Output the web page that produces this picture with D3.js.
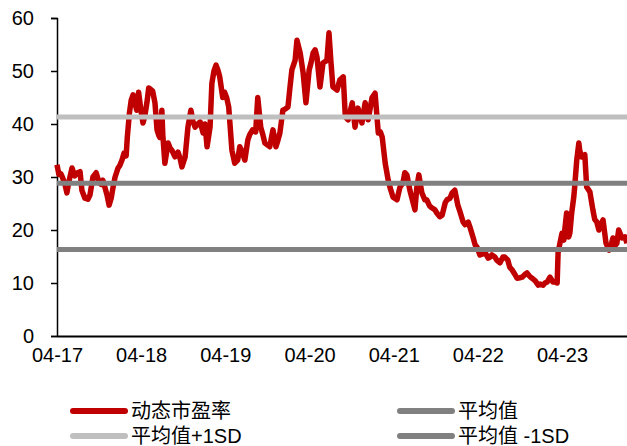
<!DOCTYPE html>
<html>
<head>
  <meta charset="utf-8">
  <title>动态市盈率</title>
  <style>
    body { margin: 0; background: #fff; }
    svg text { font-family: "Liberation Sans", Arial, sans-serif; fill: #000; }
    .legend text { font-family: "Liberation Sans", "Noto Sans CJK SC", sans-serif; }
  </style>
</head>
<body>
  <div id="chart"></div>

  <script src="https://d3js.org/d3.v7.min.js"></script>
  <script>
    // weekly-ish readings of the PE line
    const dates = [
      "2017-04-01","2017-04-09","2017-04-18","2017-04-26","2017-05-06","2017-05-14","2017-05-22","2017-06-05",
      "2017-06-17","2017-06-30","2017-07-10","2017-07-18","2017-07-31","2017-08-13","2017-08-22","2017-09-04",
      "2017-09-18","2017-09-30","2017-10-09","2017-10-17","2017-10-26","2017-11-04","2017-11-13","2017-11-22",
      "2017-11-30","2017-12-09","2017-12-22","2017-12-30","2018-01-08","2018-01-17","2018-01-26","2018-01-31",
      "2018-02-09","2018-02-17","2018-02-25","2018-03-05","2018-03-13","2018-03-21","2018-03-31","2018-04-09",
      "2018-04-17","2018-04-26","2018-05-04","2018-05-13","2018-05-21","2018-05-31","2018-06-09","2018-06-17",
      "2018-06-21","2018-06-30","2018-07-04","2018-07-13","2018-07-27","2018-08-04","2018-08-13","2018-08-26",
      "2018-09-08","2018-09-17","2018-09-25","2018-10-09","2018-10-21","2018-11-03","2018-11-12","2018-11-21",
      "2018-12-03","2018-12-13","2018-12-26","2019-01-03","2019-01-12","2019-01-25","2019-02-02","2019-02-11",
      "2019-02-20","2019-02-28","2019-03-08","2019-03-21","2019-03-29","2019-04-07","2019-04-16","2019-04-30",
      "2019-05-12","2019-05-25","2019-06-03","2019-06-11","2019-06-25","2019-07-08","2019-07-16","2019-07-29",
      "2019-08-11","2019-08-20","2019-09-02","2019-09-11","2019-09-20","2019-10-03","2019-10-11","2019-10-25",
      "2019-11-07","2019-11-16","2019-11-24","2019-12-07","2019-12-16","2019-12-29","2020-01-07","2020-01-15",
      "2020-01-29","2020-02-06","2020-02-20","2020-03-04","2020-03-16","2020-03-30","2020-04-07","2020-04-16",
      "2020-04-25","2020-05-03","2020-05-16","2020-05-29","2020-06-15","2020-06-24","2020-07-02","2020-07-11",
      "2020-07-29","2020-08-10","2020-08-25","2020-09-03","2020-09-15","2020-10-03","2020-10-15","2020-10-28",
      "2020-11-14","2020-11-28","2020-12-11","2020-12-28","2021-01-10","2021-01-24","2021-02-02","2021-02-10",
      "2021-02-23","2021-03-08","2021-03-16","2021-03-29","2021-04-15","2021-04-28","2021-05-11","2021-05-19",
      "2021-05-28","2021-06-10","2021-06-23","2021-07-02","2021-07-10","2021-07-19","2021-08-01","2021-08-14",
      "2021-08-22","2021-09-04","2021-09-13","2021-09-27","2021-10-05","2021-10-18","2021-10-28","2021-11-10",
      "2021-11-18","2021-12-01","2021-12-10","2021-12-22","2022-01-04","2022-01-13","2022-01-27","2022-02-05",
      "2022-02-18","2022-02-26","2022-03-12","2022-03-20","2022-03-28","2022-04-10","2022-04-23","2022-05-03",
      "2022-05-16","2022-05-24","2022-06-01","2022-06-14","2022-06-22","2022-07-06","2022-07-19","2022-07-27",
      "2022-08-09","2022-08-17","2022-08-27","2022-09-09","2022-09-18","2022-09-30","2022-10-10","2022-10-22",
      "2022-10-31","2022-11-13","2022-11-22","2022-12-06","2022-12-19","2022-12-27","2023-01-09","2023-01-17",
      "2023-01-27","2023-02-08","2023-02-21","2023-03-02","2023-03-11","2023-03-15","2023-03-23","2023-04-01",
      "2023-04-09","2023-04-13","2023-04-21","2023-04-30","2023-05-05","2023-05-13","2023-05-22","2023-05-26",
      "2023-06-04","2023-06-13","2023-06-17","2023-06-25","2023-07-09","2023-07-17","2023-07-31","2023-08-13",
      "2023-08-21","2023-08-30","2023-09-08","2023-09-16","2023-09-26","2023-10-09","2023-10-22","2023-10-30",
      "2023-11-08","2023-11-16","2023-11-25","2023-12-03","2023-12-17","2023-12-30","2024-01-08"
    ];
    const peValues = [
      32.3, 30.5, 30.6, 29.8, 28.5, 27.0, 29.0, 31.7,
      30.2, 30.8, 31.0, 27.5, 26.0, 25.8, 26.6, 30.0,
      30.8, 29.0, 28.6, 29.4, 28.0, 26.6, 24.7, 26.0,
      28.0, 30.0, 31.7, 32.2, 33.2, 34.5, 34.0, 37.5,
      42.0, 44.5, 45.5, 44.0, 42.6, 46.0, 42.6, 40.2,
      41.5, 44.0, 46.8, 46.5, 46.2, 44.0, 38.9, 37.8,
      37.5, 42.6, 38.0, 32.6, 36.4, 35.5, 35.0, 33.8,
      34.7, 33.5, 31.9, 33.8, 39.4, 42.6, 40.5, 39.4,
      40.0, 40.4, 38.3, 40.0, 35.7, 39.4, 47.7, 50.0,
      51.1, 50.2, 48.9, 45.0, 46.0, 45.0, 43.2, 35.0,
      32.6, 33.2, 35.7, 35.0, 33.2, 37.0, 38.0, 38.9,
      38.5, 45.0, 39.4, 38.0, 36.4, 36.0, 35.7, 38.9,
      35.7, 37.0, 38.3, 42.6, 42.8, 43.2, 47.0, 50.2,
      52.0, 55.8, 53.4, 49.6, 44.0, 50.2, 51.5, 53.4,
      54.0, 52.6, 47.0, 51.5, 52.0, 57.2, 52.0, 47.0,
      46.4, 48.3, 48.9, 41.3, 40.8, 44.0, 39.4, 43.0,
      40.2, 44.0, 40.8, 45.0, 45.8, 38.3, 38.5, 37.5,
      32.6, 29.4, 28.0, 26.2, 25.7, 28.1, 28.9, 30.8,
      30.4, 27.5, 25.3, 23.8, 28.0, 30.4, 27.0, 25.7,
      25.7, 24.5, 24.2, 23.8, 23.2, 22.5, 22.8, 25.1,
      25.7, 26.0, 27.0, 27.5, 24.7, 23.5, 21.5, 21.0,
      21.5, 20.5, 18.5, 17.2, 16.8, 15.3, 15.5, 15.7,
      14.7, 14.9, 15.3, 14.9, 14.3, 13.8, 14.9, 14.9,
      14.3, 13.0, 12.5, 11.6, 10.9, 11.0, 11.1, 11.6,
      11.9, 11.2, 10.9, 10.4, 9.6, 9.8, 9.6, 10.0,
      10.2, 11.1, 10.2, 10.2, 10.0, 15.7, 17.5, 19.4,
      18.1, 20.0, 23.2, 18.7, 19.4, 23.2, 26.2, 28.1,
      33.2, 36.4, 35.0, 33.8, 34.2, 28.1, 27.2, 23.8,
      22.0, 21.5, 20.0, 21.0, 21.9, 17.5, 16.2, 17.0,
      18.5, 17.0, 17.5, 20.0, 18.5, 18.7, 17.5
    ];

    // reference lines: mean and +/- one standard deviation
    const bandNames = ["平均值+1SD", "平均值", "平均值 -1SD"];
    const bandValues = [41.3, 28.8, 16.3];
    const bandColors = ["#bfbfbf", "#808080", "#808080"];

    const tickYears = [2017, 2018, 2019, 2020, 2021, 2022, 2023];
    const yTicks = [0, 10, 20, 30, 40, 50, 60];

    const width = 627, height = 446;
    const parse = d3.timeParse("%Y-%m-%d");
    const data = dates.map((d, i) => ({ date: parse(d), value: peValues[i] }));

    const svg = d3.select("#chart")
      .append("svg")
      .attr("width", width)
      .attr("height", height);

    const x = d3.scaleTime()
      .domain([parse("2017-04-01"), parse("2024-01-08")])
      .range([57, 627]);

    const y = d3.scaleLinear()
      .domain([0, 60])
      .range([336, 18]);

    // y axis
    const yAxis = svg.append("g")
      .attr("transform", "translate(57,0)")
      .call(d3.axisLeft(y).tickValues(yTicks).tickSize(6).tickPadding(17));
    yAxis.select(".domain").attr("stroke", "#000").attr("stroke-width", 1.5);
    yAxis.selectAll(".tick line").attr("stroke", "#000").attr("stroke-width", 1.5);
    yAxis.selectAll("text").attr("font-size", 20);

    // x axis
    const xAxis = svg.append("g")
      .attr("transform", "translate(0,336)")
      .call(d3.axisBottom(x)
        .tickValues(tickYears.map(yr => new Date(yr, 3, 1)))
        .tickFormat(d3.timeFormat("%m-%y"))
        .tickSize(0)
        .tickPadding(12));
    xAxis.select(".domain").attr("stroke", "#000").attr("stroke-width", 2);
    xAxis.selectAll("text").attr("font-size", 20);

    // PE line
    const line = d3.line()
      .x(d => x(d.date))
      .y(d => y(d.value));

    svg.append("path")
      .datum(data)
      .attr("fill", "none")
      .attr("stroke", "#c00000")
      .attr("stroke-width", 5.5)
      .attr("stroke-linejoin", "round")
      .attr("d", line);

    // horizontal reference lines
    svg.selectAll(".band")
      .data(bandValues)
      .enter()
      .append("line")
      .attr("class", "band")
      .attr("x1", x.range()[0])
      .attr("x2", x.range()[1])
      .attr("y1", d => y(d))
      .attr("y2", d => y(d))
      .attr("stroke", (d, i) => bandColors[i])
      .attr("stroke-width", 5);

    // legend
    const legendItems = [
      { name: "动态市盈率", color: "#c00000", col: 0, row: 0 },
      { name: bandNames[1], color: bandColors[1], col: 1, row: 0 },
      { name: bandNames[0], color: bandColors[0], col: 0, row: 1 },
      { name: bandNames[2], color: bandColors[2], col: 1, row: 1 }
    ];

    const legend = svg.append("g").attr("class", "legend");
    const item = legend.selectAll("g")
      .data(legendItems)
      .enter()
      .append("g")
      .attr("transform", d => `translate(${d.col ? 398 : 71},${d.row ? 436 : 411})`);

    item.append("line")
      .attr("x1", 2).attr("x2", 54)
      .attr("stroke", d => d.color)
      .attr("stroke-width", 6)
      .attr("stroke-linecap", "round");

    item.append("text")
      .attr("x", 60)
      .attr("dy", "0.35em")
      .attr("font-size", 20)
      .text(d => d.name);
  </script>
</body>
</html>
